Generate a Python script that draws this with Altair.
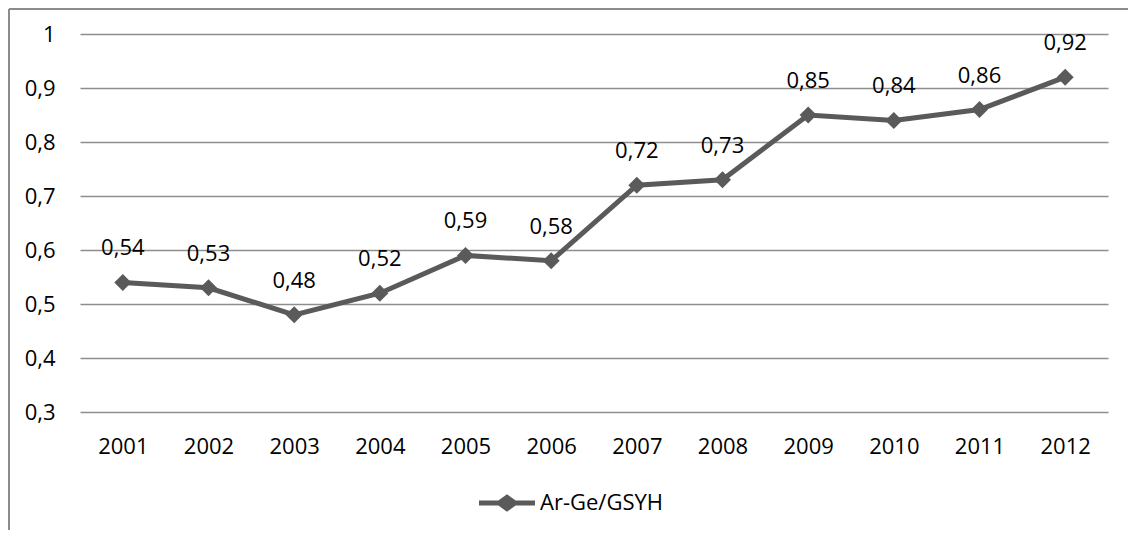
import altair as alt
import pandas as pd

years = ["2001", "2002", "2003", "2004", "2005", "2006", "2007", "2008", "2009", "2010", "2011", "2012"]
values = [0.54, 0.53, 0.48, 0.52, 0.59, 0.58, 0.72, 0.73, 0.85, 0.84, 0.86, 0.92]
series = "Ar-Ge/GSYH"

df = pd.DataFrame({"year": years, "v": values, "series": series})

FONT = "Open Sans"
LINE = "#5a5a5a"
GRID = "#8e8e8e"

legend_path = ("M-1,-0.09L-0.31,-0.09L0,-0.31L0.31,-0.09L1,-0.09L1,0.09"
               "L0.31,0.09L0,0.31L-0.31,0.09L-1,0.09Z")

x = alt.X("year:O", scale=alt.Scale(type="point", padding=0.5),
          axis=alt.Axis(title=None, labelAngle=0, ticks=False, tickSize=0, domain=False,
                        grid=False, labelPadding=24, labelFont=FONT, labelFontSize=22,
                        labelColor="#000000"))
y = alt.Y("v:Q", scale=alt.Scale(domain=[0.3, 1.0], nice=False, zero=False),
          axis=alt.Axis(title=None, values=[0.3, 0.4, 0.5, 0.6, 0.7, 0.8, 0.9, 1.0],
                        ticks=False, tickSize=0, domain=False, grid=True,
                        gridColor=GRID, gridWidth=1.5, labelPadding=25,
                        labelFont=FONT, labelFontSize=22, labelColor="#000000",
                        labelExpr="replace(format(datum.value, '.1~f'), '.', ',')"))

color = alt.Color("series:N", scale=alt.Scale(range=[LINE]),
                  legend=alt.Legend(title=None, orient="none", legendX=399, legendY=441,
                                    symbolType=legend_path, symbolSize=3136,
                                    symbolFillColor=LINE, symbolStrokeWidth=0,
                                    labelFont=FONT, labelFontSize=22, labelColor="#000000",
                                    labelOffset=5))

base = alt.Chart(df)

line = base.mark_line(strokeWidth=5, color=LINE).encode(x=x, y=y, color=color)
pts = base.mark_point(shape="diamond", filled=True, size=290, opacity=1, color=LINE).encode(
    x=x, y=y)
labels = base.transform_calculate(
    lab="replace(format(datum.v, '.2f'), '.', ',')"
).mark_text(font=FONT, fontSize=22, color="#000000", dy=-34, baseline="middle").encode(
    x=x, y=y, text="lab:N")

border_left = base.mark_rule(color="#8c8c8c", strokeWidth=2).encode(
    x=alt.value(-71), y=alt.value(-25), y2=alt.value(700))
border_top = base.mark_rule(color="#8c8c8c", strokeWidth=2).encode(
    x=alt.value(-71), x2=alt.value(1300), y=alt.value(-25))

chart = alt.layer(line, pts, labels, border_left, border_top).properties(
    width=1028, height=378,
    autosize=alt.AutoSizeParams(type="none"),
    padding={"left": 72, "top": 26, "right": 20, "bottom": 118},
    background="#ffffff",
).configure_view(stroke=None)

chart.save("out.html", embed_options={"renderer": "svg", "actions": False})
